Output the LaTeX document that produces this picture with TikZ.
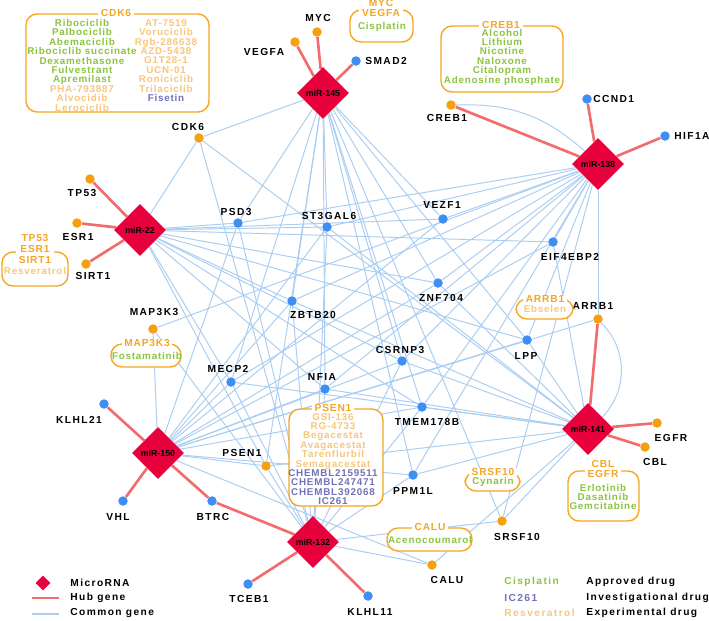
\documentclass[tikz,border=0pt]{standalone}
\usepackage{fontspec}
\setmainfont{Liberation Sans}
\newfontfamily\genefont[LetterSpace=14]{Liberation Sans}
\newfontfamily\drugfont[LetterSpace=8]{Liberation Sans}
\usetikzlibrary{shapes.geometric,backgrounds}

\definecolor{mirred}{HTML}{E8003D}
\definecolor{hubred}{HTML}{F26C6C}
\definecolor{comblue}{HTML}{AACDF2}
\definecolor{dotblue}{HTML}{3F8EF3}
\definecolor{dotorange}{HTML}{F4A010}
\definecolor{boxorange}{HTML}{F5A623}
\definecolor{approved}{HTML}{8CC43F}
\definecolor{investig}{HTML}{7272B8}
\definecolor{experim}{HTML}{F8C77C}

\tikzset{
  mirna/.style={diamond, fill=mirred, inner sep=0pt, minimum width=1.04cm,
    minimum height=1.04cm, font=\fontsize{5}{5}\selectfont\bfseries},
  bdot/.style={circle, fill=dotblue, inner sep=0pt, minimum size=0.19cm},
  odot/.style={circle, fill=dotorange, inner sep=0pt, minimum size=0.19cm},
  glabel/.style={font=\genefont\bfseries\fontsize{5.8}{6}\selectfont, inner sep=0pt},
  hub/.style={hubred, line width=1.5pt},
  common/.style={comblue, line width=0.55pt},
  drugbox/.style={draw=boxorange, line width=0.8pt, rounded corners=0.22cm, fill=white},
  boxtitle/.style={font=\drugfont\bfseries\fontsize{5.8}{6.2}\selectfont, text=boxorange,
    fill=white, inner xsep=1.5pt, inner ysep=0pt, align=center},
  druglist/.style={font=\drugfont\bfseries\fontsize{5.6}{5.35}\selectfont, align=center, inner sep=0pt},
}

\begin{document}
\begin{tikzpicture}[x=0.02cm, y=-0.02cm]
\useasboundingbox (0,0) rectangle (709,620);

% microRNAs
\node[mirna] (mir145) at (323,93) {miR-145};
\node[mirna] (mir138) at (598,164) {miR-138};
\node[mirna] (mir22) at (140,230) {miR-22};
\node[mirna] (mir150) at (158,453) {miR-150};
\node[mirna] (mir132) at (313,542) {miR-132};
\node[mirna] (mir141) at (588,429) {miR-141};

% hub genes
\node[odot] (myc) at (317,32) {};
\node[odot] (vegfa) at (295,42) {};
\node[bdot] (smad2) at (356,61) {};
\node[odot] (creb1) at (451,105) {};
\node[bdot] (ccnd1) at (587,99) {};
\node[bdot] (hif1a) at (665,136) {};
\node[odot] (tp53) at (90,179) {};
\node[odot] (esr1) at (77,223) {};
\node[odot] (sirt1) at (86,264) {};
\node[bdot] (klhl21) at (104,404) {};
\node[bdot] (vhl) at (123,501) {};
\node[bdot] (btrc) at (212,501) {};
\node[bdot] (tceb1) at (248,584) {};
\node[bdot] (klhl11) at (368,596) {};
\node[odot] (arrb1) at (598,319) {};
\node[odot] (egfr) at (657,423) {};
\node[odot] (cbl) at (645,447) {};

% common genes
\node[odot] (cdk6) at (199,138) {};
\node[bdot] (psd3) at (238,223) {};
\node[bdot] (st3gal6) at (327,227) {};
\node[bdot] (vezf1) at (443,219) {};
\node[bdot] (znf704) at (438,283) {};
\node[bdot] (zbtb20) at (292,301) {};
\node[bdot] (eif4ebp2) at (553,242) {};
\node[bdot] (lpp) at (527,340) {};
\node[odot] (map3k3) at (153,329) {};
\node[bdot] (mecp2) at (231,382) {};
\node[bdot] (csrnp3) at (402,361) {};
\node[bdot] (nfia) at (325,389) {};
\node[bdot] (tmem178b) at (422,407) {};
\node[odot] (psen1) at (266,466) {};
\node[bdot] (ppm1l) at (413,475) {};
\node[odot] (calu) at (432,565) {};
\node[odot] (srsf10) at (502,521) {};

% connectors
\begin{scope}[on background layer]
\foreach \g in {cdk6,psd3,st3gal6,vezf1,eif4ebp2,znf704,zbtb20,lpp,csrnp3,nfia,mecp2,tmem178b,psen1}
  \draw[common] (mir22) -- (\g);
\foreach \g in {cdk6,psd3,st3gal6,zbtb20,nfia,csrnp3,tmem178b,ppm1l,psen1,srsf10,znf704,vezf1,lpp,mecp2}
  \draw[common] (mir145) -- (\g);
\foreach \g in {psd3,st3gal6,vezf1,eif4ebp2,znf704,zbtb20,csrnp3,lpp,nfia,mecp2,ppm1l,map3k3,srsf10,arrb1,tmem178b}
  \draw[common] (mir138) -- (\g);
\foreach \g in {psd3,st3gal6,zbtb20,mecp2,nfia,csrnp3,tmem178b,lpp,eif4ebp2,znf704,psen1,ppm1l,arrb1,map3k3,calu,vezf1}
  \draw[common] (mir150) -- (\g);
\foreach \g in {psd3,zbtb20,st3gal6,mecp2,nfia,psen1,ppm1l,tmem178b,calu,srsf10,map3k3,cdk6,csrnp3}
  \draw[common] (mir132) -- (\g);
\foreach \g in {cdk6,st3gal6,znf704,eif4ebp2,lpp,csrnp3,nfia,tmem178b,mecp2,zbtb20,psen1,ppm1l,srsf10,calu}
  \draw[common] (mir141) -- (\g);
\draw[common] (creb1) to[bend left=22] (mir138);
\draw[common] (arrb1) to[bend left=45] (mir141);

\foreach \g in {myc,vegfa,smad2} \draw[hub] (mir145) -- (\g);
\foreach \g in {creb1,ccnd1,hif1a} \draw[hub] (mir138) -- (\g);
\foreach \g in {tp53,esr1,sirt1} \draw[hub] (mir22) -- (\g);
\foreach \g in {klhl21,vhl,btrc} \draw[hub] (mir150) -- (\g);
\foreach \g in {btrc,tceb1,klhl11} \draw[hub] (mir132) -- (\g);
\foreach \g in {arrb1,egfr,cbl} \draw[hub] (mir141) -- (\g);
\end{scope}

% gene labels
\node[glabel] (myc-l) at (318,18) {MYC};
\node[glabel] (vegfa-l) at (264,52) {VEGFA};
\node[glabel, anchor=west] (smad2-l) at (365,61) {SMAD2};
\node[glabel] (creb1-l) at (447,118) {CREB1};
\node[glabel, anchor=west] (ccnd1-l) at (593,99) {CCND1};
\node[glabel, anchor=west] (hif1a-l) at (674,136) {HIF1A};
\node[glabel] (cdk6-l) at (188,127) {CDK6};
\node[glabel] (tp53-l) at (82,193) {TP53};
\node[glabel] (esr1-l) at (78,237) {ESR1};
\node[glabel] (sirt1-l) at (93,276) {SIRT1};
\node[glabel] (psd3-l) at (236,212) {PSD3};
\node[glabel] (st3gal6-l) at (329,216) {ST3GAL6};
\node[glabel] (vezf1-l) at (442,205) {VEZF1};
\node[glabel] (znf704-l) at (441,298) {ZNF704};
\node[glabel] (zbtb20-l) at (313,315) {ZBTB20};
\node[glabel] (eif4ebp2-l) at (570,257) {EIF4EBP2};
\node[glabel] (arrb1-l) at (593,306) {ARRB1};
\node[glabel] (lpp-l) at (526,356) {LPP};
\node[glabel] (map3k3-l) at (154,312) {MAP3K3};
\node[glabel] (mecp2-l) at (228,369) {MECP2};
\node[glabel] (klhl21-l) at (79,420) {KLHL21};
\node[glabel] (psen1-l) at (242,453) {PSEN1};
\node[glabel] (csrnp3-l) at (400,350) {CSRNP3};
\node[glabel] (nfia-l) at (322,377) {NFIA};
\node[glabel] (tmem178b-l) at (427,422) {TMEM178B};
\node[glabel] (ppm1l-l) at (413,491) {PPM1L};
\node[glabel] (vhl-l) at (118,517) {VHL};
\node[glabel] (btrc-l) at (213,517) {BTRC};
\node[glabel] (tceb1-l) at (249,599) {TCEB1};
\node[glabel] (klhl11-l) at (370,612) {KLHL11};
\node[glabel] (calu-l) at (447,580) {CALU};
\node[glabel] (srsf10-l) at (517,537) {SRSF10};
\node[glabel] (egfr-l) at (671,438) {EGFR};
\node[glabel] (cbl-l) at (655,462) {CBL};

% drug boxes
\draw[drugbox] (26,14) rectangle (209,112);
\node[boxtitle] (cdk6-t) at (116,13) {CDK6};
\node[druglist, anchor=north] (cdk6-a) at (82,19) {\textcolor{approved}{Ribociclib}\\\textcolor{approved}{Palbociclib}\\
  \textcolor{approved}{Abemaciclib}\\\textcolor{approved}{Ribociclib succinate}\\\textcolor{approved}{Dexamethasone}\\
  \textcolor{approved}{Fulvestrant}\\\textcolor{approved}{Apremilast}\\\textcolor{experim}{PHA-793887}\\
  \textcolor{experim}{Alvocidib}\\\textcolor{experim}{Lerociclib}};
\node[druglist, anchor=north] (cdk6-b) at (166,19) {\textcolor{experim}{AT-7519}\\\textcolor{experim}{Voruciclib}\\
  \textcolor{experim}{Rgb-286638}\\\textcolor{experim}{AZD-5438}\\\textcolor{experim}{G1T28-1}\\
  \textcolor{experim}{UCN-01}\\\textcolor{experim}{Roniciclib}\\\textcolor{experim}{Trilaciclib}\\
  \textcolor{investig}{Fisetin}};

\draw[drugbox] (350,10) rectangle (413,42);
\node[boxtitle] (myc-t) at (381,8) {MYC\\VEGFA};
\node[druglist, text=approved] (myc-d) at (382,27) {Cisplatin};

\draw[drugbox] (441,26) rectangle (563,92);
\node[boxtitle] (creb1-t) at (501,25) {CREB1};
\node[druglist, text=approved] (creb1-d) at (502,57) {Alcohol\\Lithium\\Nicotine\\Naloxone\\Citalopram\\Adenosine phosphate};

\draw[drugbox] (2,252) rectangle (68,286);
\node[boxtitle] (tp53-t) at (35,249) {TP53\\ESR1\\SIRT1};
\node[druglist, text=experim] (tp53-d) at (35,271) {Resveratrol};

\draw[drugbox] (111,344) rectangle (181,367);
\node[boxtitle] (map3k3-t) at (147,343) {MAP3K3};
\node[druglist, text=approved] (map3k3-d) at (147,356) {Fostamatinib};

\draw[drugbox] (516,299) rectangle (573,319);
\node[boxtitle] (arrb1-t) at (545,299) {ARRB1};
\node[druglist, text=experim] (arrb1-d) at (545,309) {Ebselen};

\draw[drugbox] (289,409) rectangle (383,506);
\node[boxtitle] (psen1-t) at (333,408) {PSEN1};
\node[druglist] (psen1-d) at (333,459) {\textcolor{experim}{GSI-136}\\\textcolor{experim}{RG-4733}\\
  \textcolor{experim}{Begacestat}\\\textcolor{experim}{Avagacestat}\\\textcolor{experim}{Tarenflurbil}\\
  \textcolor{experim}{Semagacestat}\\\textcolor{investig}{CHEMBL2159511}\\\textcolor{investig}{CHEMBL247471}\\
  \textcolor{investig}{CHEMBL392068}\\\textcolor{investig}{IC261}};

\draw[drugbox] (465,472) rectangle (520,491);
\node[boxtitle] (srsf10-t) at (493,472) {SRSF10};
\node[druglist, text=approved] (srsf10-d) at (493,482) {Cynarin};

\draw[drugbox] (387,528) rectangle (472,551);
\node[boxtitle] (calu-t) at (430,527) {CALU};
\node[druglist, text=approved] (calu-d) at (430,540) {Acenocoumarol};

\draw[drugbox] (568,471) rectangle (639,521);
\node[boxtitle] (cbl-t) at (603,469) {CBL\\EGFR};
\node[druglist, text=approved] (cbl-d) at (603,497) {Erlotinib\\Dasatinib\\Gemcitabine};

% legend
\node[diamond, fill=mirred, inner sep=0pt, minimum size=0.3cm] (leg-mir) at (43,583) {};
\coordinate (leg-hub1) at (32,598);
\coordinate (leg-hub2) at (59,598);
\coordinate (leg-com1) at (32,614);
\coordinate (leg-com2) at (59,614);
\draw[hub] (leg-hub1) -- (leg-hub2);
\draw[common, line width=0.7pt] (leg-com1) -- (leg-com2);
\node[glabel, anchor=west] (leg-mir-l) at (70,583) {MicroRNA};
\node[glabel, anchor=west] (leg-hub-l) at (70,598) {Hub gene};
\node[glabel, anchor=west] (leg-com-l) at (70,613) {Common gene};
\node[glabel, anchor=west, text=approved] (leg-app) at (504,582) {Cisplatin};
\node[glabel, anchor=west, text=investig] (leg-inv) at (504,598) {IC261};
\node[glabel, anchor=west, text=experim] (leg-exp) at (504,613) {Resveratrol};
\node[glabel, anchor=west] (leg-app-l) at (586,582) {Approved drug};
\node[glabel, anchor=west] (leg-inv-l) at (586,598) {Investigational drug};
\node[glabel, anchor=west] (leg-exp-l) at (586,613) {Experimental drug};
\end{tikzpicture}
\end{document}
